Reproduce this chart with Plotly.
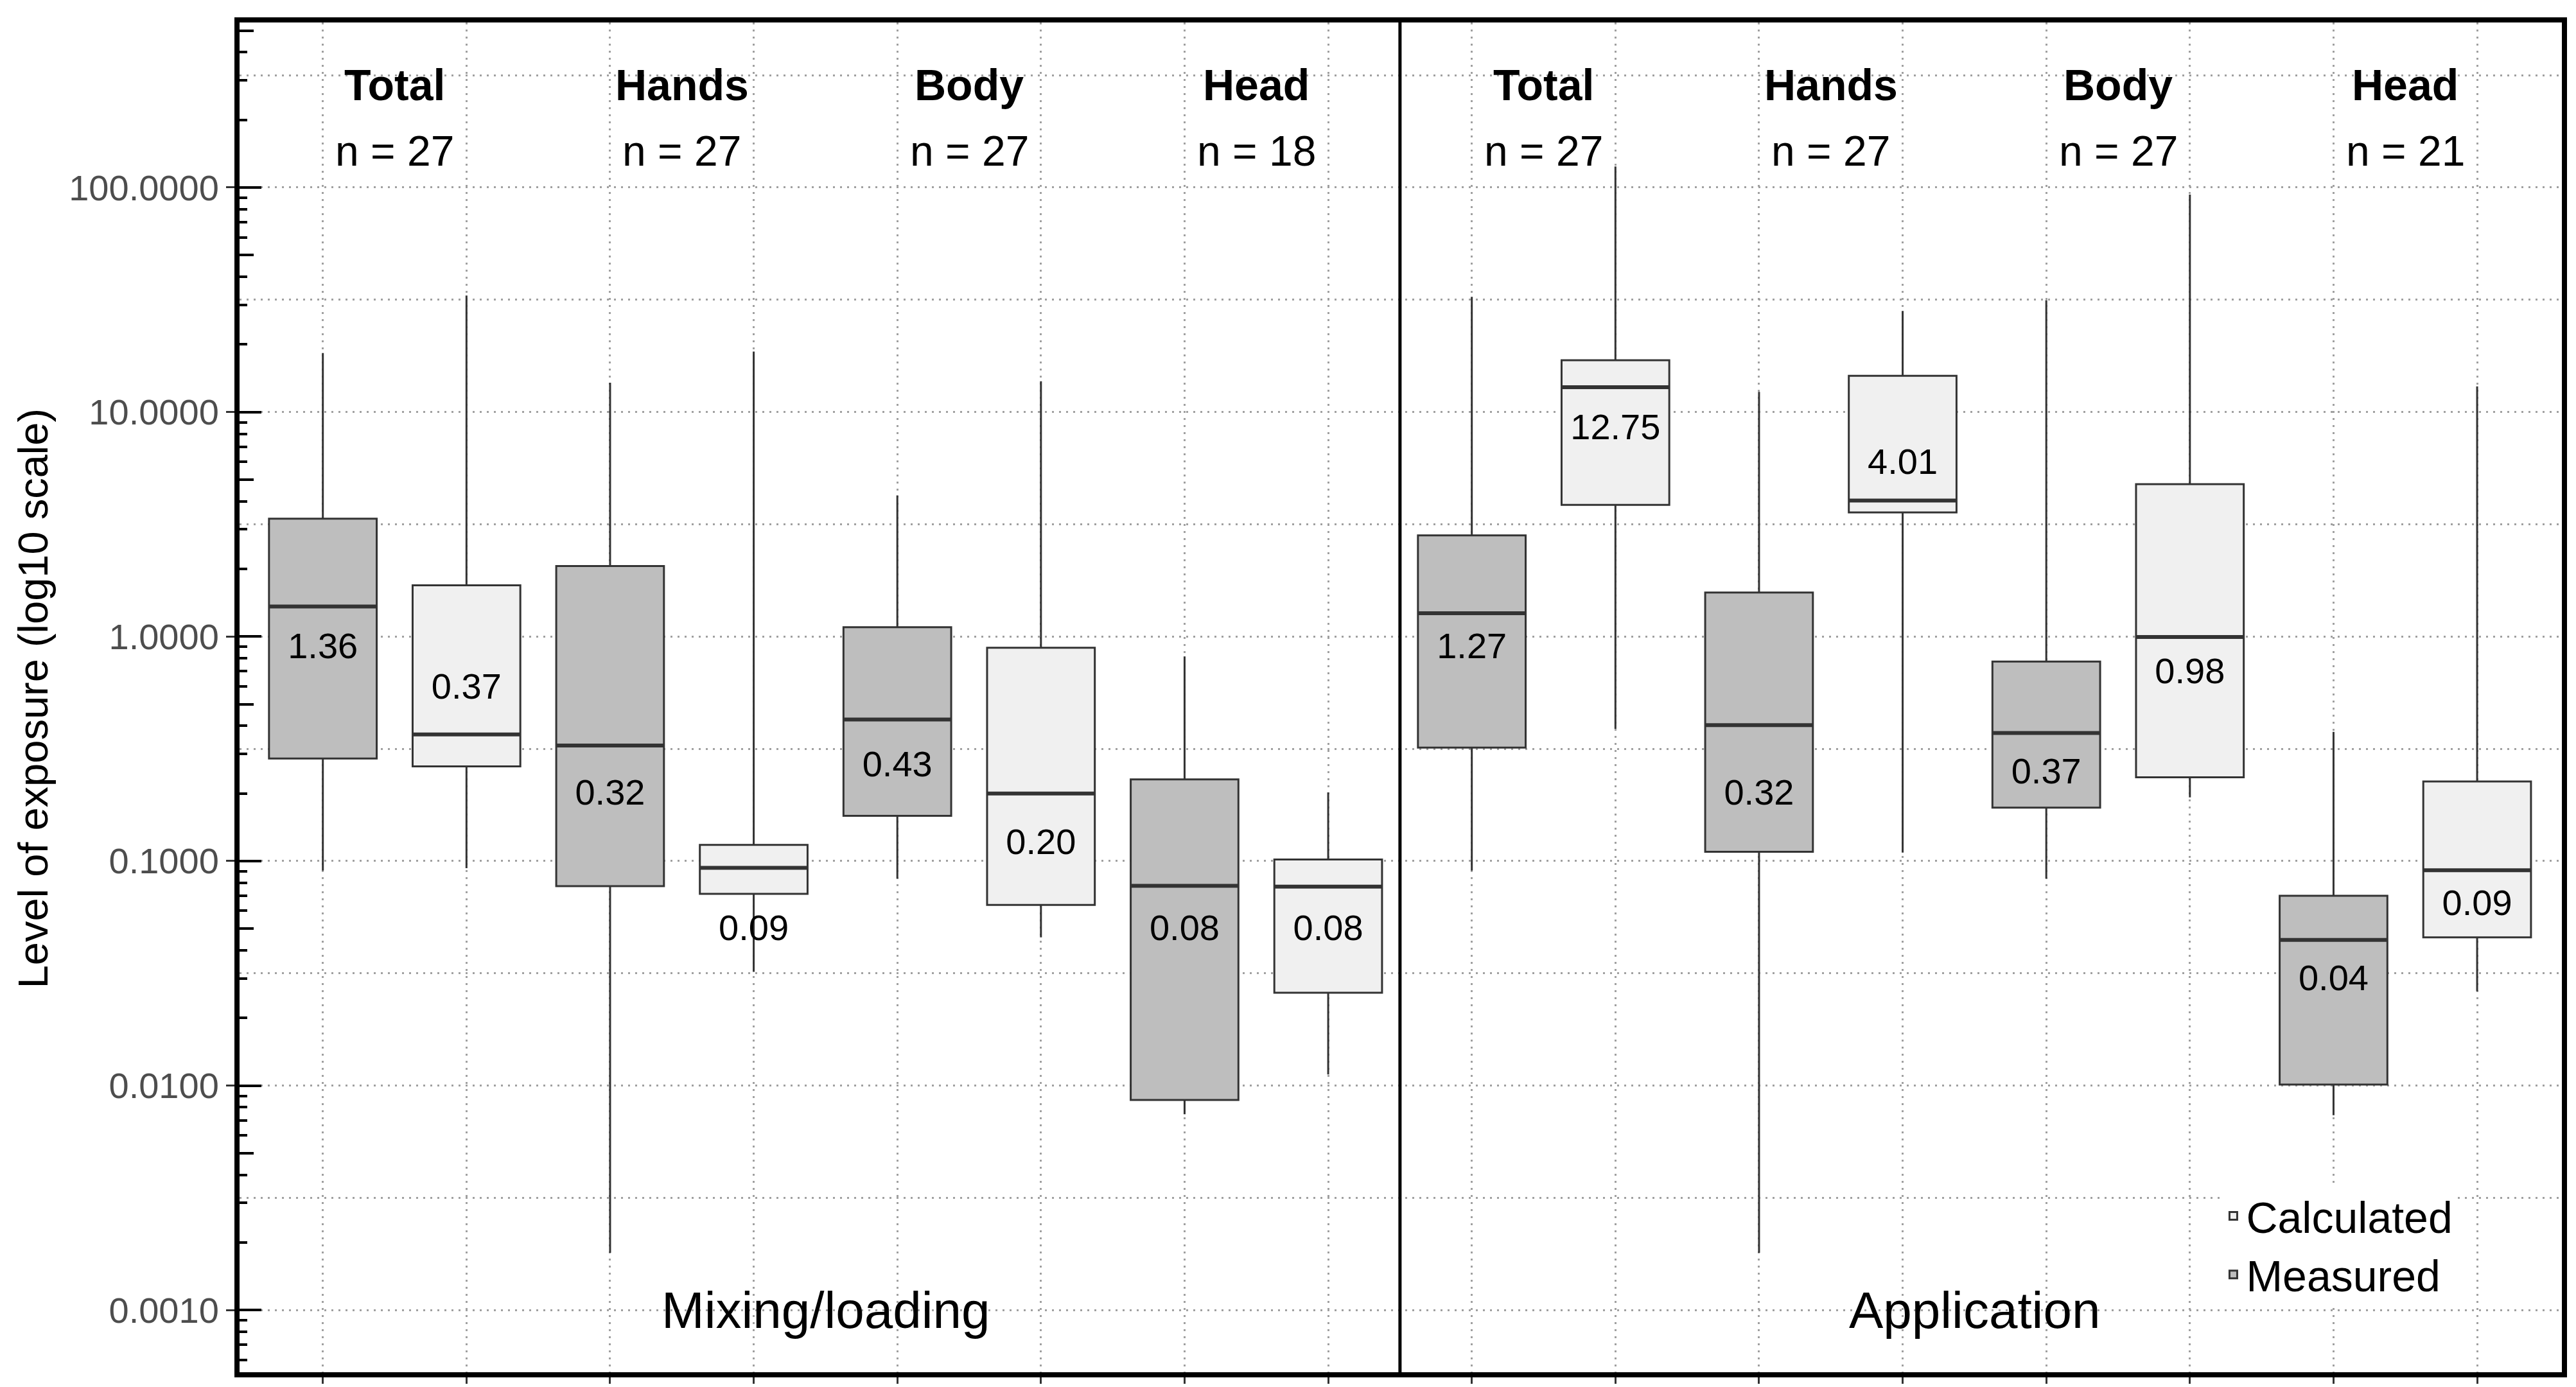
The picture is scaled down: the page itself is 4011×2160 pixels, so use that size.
import plotly.graph_objects as go

# ---------------- data ----------------
phases = ["Mixing/loading", "Application"]
sites = ["Total", "Hands", "Body", "Head"]
n_counts = [27, 27, 27, 18, 27, 27, 27, 21]

measured_upper = [18.3, 13.5, 4.25, 0.815, 32.6, 12.3, 31.5, 0.376]
measured_q3 = [3.35, 2.06, 1.10, 0.231, 2.82, 1.57, 0.773, 0.070]
measured_median = [1.36, 0.327, 0.427, 0.0776, 1.27, 0.403, 0.372, 0.0445]
measured_q1 = [0.286, 0.0773, 0.159, 0.00863, 0.320, 0.110, 0.173, 0.0101]
measured_lower = [0.0906, 0.0018, 0.0835, 0.00745, 0.0906, 0.0018, 0.0835, 0.00738]
measured_label = ["1.36", "0.32", "0.43", "0.08", "1.27", "0.32", "0.37", "0.04"]
measured_label_at = [0.88, 0.196, 0.262, 0.0486, 0.88, 0.196, 0.243, 0.0292]

calculated_upper = [33.0, 18.6, 13.7, 0.202, 124.0, 28.2, 93.0, 13.0]
calculated_q3 = [1.69, 0.118, 0.891, 0.1016, 17.0, 14.5, 4.77, 0.226]
calculated_median = [0.366, 0.0933, 0.200, 0.0769, 12.9, 4.03, 0.995, 0.091]
calculated_q1 = [0.264, 0.0714, 0.0637, 0.0259, 3.86, 3.57, 0.236, 0.0457]
calculated_lower = [0.093, 0.0321, 0.0457, 0.0112, 0.388, 0.109, 0.192, 0.0263]
calculated_label = ["0.37", "0.09", "0.20", "0.08", "12.75", "4.01", "0.98", "0.09"]
calculated_label_at = [0.58, 0.0486, 0.118, 0.0486, 8.3, 5.82, 0.678, 0.0632]

decade_ticks = [0.001, 0.01, 0.1, 1, 10, 100]
decade_labels = ["0.0010", "0.0100", "0.1000", "1.0000", "10.0000", "100.0000"]

# ---------------- styling ----------------
FONT = "Liberation Sans, Arial, sans-serif"
OUTLINE = "#333333"
GRID = "#A0A0A0"
BOX_W = 0.75

n_groups = len(phases) * len(sites)
meas_x = [2 * i + 1 for i in range(n_groups)]
calc_x = [2 * i + 2 for i in range(n_groups)]

all_decades = [10.0 ** k for k in range(-4, 3)]
half_decades = [d * 10 ** 0.5 for d in all_decades]
minor_digits = [d * m for d in all_decades for m in (2, 3, 4, 6, 7, 8, 9)]
five_ticks = [d * 5 for d in all_decades]
YR = [-3.277, 2.735]
XR = [0.42, 16.59]


def median_segments(xs, ys):
    X, Y = [], []
    for x, y in zip(xs, ys):
        X += [x - BOX_W / 2, x + BOX_W / 2, None]
        Y += [y, y, None]
    return X, Y


fig = go.Figure()

fig.add_trace(go.Box(
    name="Calculated", x=calc_x,
    q1=calculated_q1, median=calculated_median, q3=calculated_q3,
    lowerfence=calculated_lower, upperfence=calculated_upper,
    width=BOX_W, whiskerwidth=0, boxpoints=False,
    fillcolor="#F0F0F0", line=dict(color=OUTLINE, width=3),
    hoverinfo="skip"))
fig.add_trace(go.Box(
    name="Measured", x=meas_x,
    q1=measured_q1, median=measured_median, q3=measured_q3,
    lowerfence=measured_lower, upperfence=measured_upper,
    width=BOX_W, whiskerwidth=0, boxpoints=False,
    fillcolor="#BEBEBE", line=dict(color=OUTLINE, width=3),
    hoverinfo="skip"))

for xs, ys in ((calc_x, calculated_median), (meas_x, measured_median)):
    X, Y = median_segments(xs, ys)
    fig.add_trace(go.Scatter(x=X, y=Y, mode="lines", line=dict(color=OUTLINE, width=6),
                             showlegend=False, hoverinfo="skip"))

fig.add_trace(go.Scatter(
    x=meas_x + calc_x, y=measured_label_at + calculated_label_at,
    text=measured_label + calculated_label, mode="text",
    textfont=dict(family=FONT, size=56, color="black"),
    showlegend=False, hoverinfo="skip"))

# dummy traces so the overlay tick axes are drawn
for ax in ("y2", "y3"):
    fig.add_trace(go.Scatter(x=[1], y=[1], yaxis=ax, mode="markers",
                             marker=dict(opacity=0), showlegend=False, hoverinfo="skip"))

# facet headers
annotations = []
for i in range(n_groups):
    cx = 2 * i + 1.5
    annotations.append(dict(x=cx, y=0.954, xref="x", yref="paper", text=f"<b>{sites[i % len(sites)]}</b>",
                            showarrow=False, xanchor="center", yanchor="middle",
                            font=dict(family=FONT, size=68, color="black")))
    annotations.append(dict(x=cx, y=0.905, xref="x", yref="paper", text=f"n = {n_counts[i]}",
                            showarrow=False, xanchor="center", yanchor="middle",
                            font=dict(family=FONT, size=66, color="black")))
per_phase = len(sites) * 2
for p, name in enumerate(phases):
    annotations.append(dict(x=p * per_phase + per_phase / 2 + 0.5, y=0.046, xref="x", yref="paper",
                            text=name, showarrow=False, xanchor="center", yanchor="middle",
                            font=dict(family=FONT, size=80, color="black")))
annotations.append(dict(x=-0.089, y=0.499, xref="paper", yref="paper",
                        text="Level of exposure (log10 scale)", textangle=-90,
                        showarrow=False, xanchor="center", yanchor="middle",
                        font=dict(family=FONT, size=65, color="black")))

fig.add_shape(type="line", x0=per_phase + 0.5, x1=per_phase + 0.5, xref="x",
              y0=0, y1=1, yref="paper", line=dict(color="black", width=5))

fig.update_layout(
    width=4011, height=2160,
    margin=dict(l=365, r=30, t=27, b=31),
    paper_bgcolor="white", plot_bgcolor="white",
    font=dict(family=FONT),
    showlegend=True,
    annotations=annotations,
    legend=dict(x=0.853, y=0.140, xanchor="left", yanchor="top",
                font=dict(family=FONT, size=68, color="black"),
                bgcolor="white", borderwidth=0, tracegroupgap=0),
    xaxis=dict(range=XR, tickvals=list(range(1, 2 * n_groups + 1)), showticklabels=False,
               ticks="outside", ticklen=10, tickwidth=3, tickcolor=OUTLINE,
               showgrid=True, gridcolor=GRID, gridwidth=3, griddash="3px,8px",
               showline=True, linecolor="black", linewidth=8, mirror=True, zeroline=False),
    yaxis=dict(type="log", range=YR, tickvals=decade_ticks, ticktext=decade_labels,
               ticks="outside", ticklen=13, tickwidth=3, tickcolor=OUTLINE,
               tickfont=dict(family=FONT, size=56, color="#4D4D4D"),
               showgrid=True, gridcolor=GRID, gridwidth=3, griddash="3px,8px",
               minor=dict(tickvals=half_decades, ticks="", showgrid=True,
                          gridcolor=GRID, gridwidth=3, griddash="3px,8px"),
               showline=True, linecolor="black", linewidth=8, mirror=True, zeroline=False),
    yaxis2=dict(type="log", range=YR, overlaying="y", anchor="x", side="left",
                tickvals=all_decades, ticks="inside", ticklen=34, tickwidth=4, tickcolor="black",
                minor=dict(tickvals=minor_digits, ticks="inside", ticklen=12, tickwidth=4,
                           tickcolor="black", showgrid=False),
                showticklabels=False, showgrid=False, zeroline=False, showline=False),
    yaxis3=dict(type="log", range=YR, overlaying="y", anchor="x", side="left",
                tickvals=five_ticks, ticks="inside", ticklen=22, tickwidth=4, tickcolor="black",
                showticklabels=False, showgrid=False, zeroline=False, showline=False),
)

fig.write_html("out.html")
